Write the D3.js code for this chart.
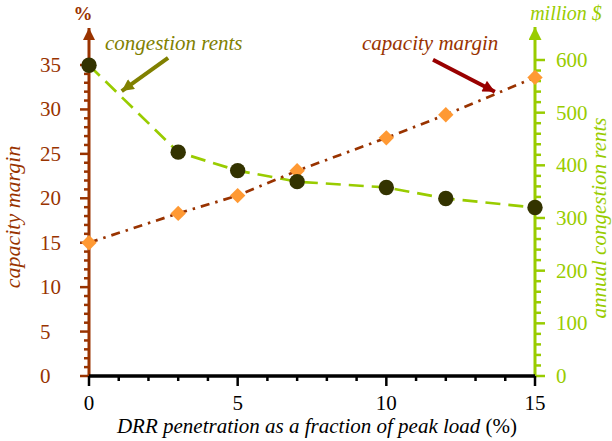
<!DOCTYPE html>
<html>
<head>
<meta charset="utf-8">
<script src="https://cdn.jsdelivr.net/npm/d3@7"></script>
<style>
  html, body { margin: 0; padding: 0; background: #fff; }
  svg text { font-family: "Liberation Serif", "DejaVu Serif", Times, serif; }
</style>
</head>
<body>
<svg id="chart" width="612" height="441"></svg>
<script>
// DRR penetration (% of peak load)
const penetration = [0, 3, 5, 7, 10, 12, 15];
// capacity margin, % (left axis)
const capacityMargin = [15, 18.3, 20.3, 23.1, 26.8, 29.4, 33.6];
// annual congestion rents, million $ (right axis)
const congestionRents = [590, 425, 390, 369, 358, 337, 320];

const xTicks = [0, 5, 10, 15];
const leftTicks = [0, 5, 10, 15, 20, 25, 30, 35];
const rightTicks = [0, 100, 200, 300, 400, 500, 600];

const C_LEFT = "#993300", C_RIGHT = "#99cc00", C_DOT = "#333300",
      C_DIAMOND = "#ff9933", C_OLIVE = "#808000", C_DARKRED = "#990000";
const SERIF = "'Liberation Serif', 'DejaVu Serif', Times, serif";

const svg = d3.select("#chart");
const x = d3.scaleLinear().domain([0, 15]).range([89, 535]);
const yL = d3.scaleLinear().domain([0, 35]).range([376, 65]);
const yR = d3.scaleLinear().domain([0, 600]).range([376, 60]);

// arrowhead markers
const defs = svg.append("defs");
function marker(id, color, w, h) {
  defs.append("marker").attr("id", id)
    .attr("viewBox", "0 0 10 10").attr("refX", 10).attr("refY", 5)
    .attr("markerUnits", "userSpaceOnUse")
    .attr("markerWidth", w).attr("markerHeight", h).attr("orient", "auto")
    .append("path").attr("d", "M0,0 L10,5 L0,10 Z").attr("fill", color);
}
marker("headL", C_LEFT, 13, 12);
marker("headR", C_RIGHT, 13, 13);
marker("headOlive", C_OLIVE, 14, 12);
marker("headRed", C_DARKRED, 14, 12);

function label(sel) { return sel.attr("font-family", SERIF); }

// ---- left axis (capacity margin) ----
const gL = svg.append("g").attr("transform", `translate(${x(0)},0)`);
gL.append("line").attr("x1", 0).attr("x2", 0).attr("y1", yL(0)).attr("y2", 28)
  .attr("stroke", C_LEFT).attr("stroke-width", 3).attr("marker-end", "url(#headL)");
gL.selectAll("line.minor").data(d3.range(0, 36, 1)).join("line").attr("class", "minor")
  .attr("x1", d => leftTicks.includes(d) ? -9 : -5).attr("x2", 0)
  .attr("y1", d => yL(d)).attr("y2", d => yL(d))
  .attr("stroke", C_LEFT).attr("stroke-width", 2.5);
svg.append("g").selectAll("text").data(leftTicks).join("text").call(label)
  .attr("x", 40).attr("y", d => yL(d) + 7)
  .attr("font-size", 21).attr("fill", C_LEFT).text(d => d);
svg.append("text").call(label).attr("x", 83).attr("y", 20).attr("text-anchor", "middle")
  .attr("font-size", 19).attr("font-weight", "bold").attr("fill", C_LEFT).text("%");
svg.append("text").call(label).attr("transform", `translate(20,${yL(17.9)}) rotate(-90)`)
  .attr("text-anchor", "middle").attr("font-size", 22).attr("font-style", "italic")
  .attr("fill", C_LEFT).text("capacity margin");

// ---- right axis (congestion rents) ----
const gR = svg.append("g").attr("transform", `translate(${x(15)},0)`);
gR.append("line").attr("x1", 0).attr("x2", 0).attr("y1", yR(0) + 1.5).attr("y2", 27)
  .attr("stroke", C_RIGHT).attr("stroke-width", 3).attr("marker-end", "url(#headR)");
gR.selectAll("line.minor").data(d3.range(0, 601, 20)).join("line").attr("class", "minor")
  .attr("x1", 0).attr("x2", d => rightTicks.includes(d) ? 10 : 6)
  .attr("y1", d => yR(d)).attr("y2", d => yR(d))
  .attr("stroke", C_RIGHT).attr("stroke-width", 2.5);
svg.append("g").selectAll("text").data(rightTicks).join("text").call(label)
  .attr("x", 556).attr("y", d => yR(d) + 7)
  .attr("font-size", 21).attr("fill", C_RIGHT).text(d => d);
svg.append("text").call(label).attr("x", 566).attr("y", 20).attr("text-anchor", "middle")
  .attr("font-size", 20).attr("font-style", "italic").attr("fill", C_RIGHT).text("million $");
svg.append("text").call(label).attr("transform", `translate(606,${yR(300)}) rotate(-90)`)
  .attr("text-anchor", "middle").attr("font-size", 21).attr("font-style", "italic")
  .attr("fill", C_RIGHT).text("annual congestion rents");

// ---- x axis ----
const gX = svg.append("g").attr("transform", `translate(0,${yL(0)})`);
gX.selectAll("line.tick").data(d3.range(0, 16, 1)).join("line").attr("class", "tick")
  .attr("x1", d => x(d)).attr("x2", d => x(d))
  .attr("y1", 0).attr("y2", d => xTicks.includes(d) ? 10 : 5)
  .attr("stroke", "#000").attr("stroke-width", 2.5);
gX.append("line").attr("x1", x(0)).attr("x2", x(15)).attr("y1", 0).attr("y2", 0)
  .attr("stroke", "#000").attr("stroke-width", 3.5);
gX.selectAll("text").data(xTicks).join("text").call(label)
  .attr("x", d => x(d)).attr("y", 34).attr("text-anchor", "middle")
  .attr("font-size", 21).attr("fill", "#000").text(d => d);
svg.append("text").call(label).attr("x", 317).attr("y", 433).attr("text-anchor", "middle")
  .attr("font-size", 21).attr("fill", "#000")
  .call(t => {
    t.append("tspan").attr("font-style", "italic").text("DRR penetration as a fraction of peak load ");
    t.append("tspan").text("(%)");
  });

// ---- congestion rents series ----
svg.append("path").datum(penetration.map((p, i) => [p, congestionRents[i]]))
  .attr("d", d3.line().x(d => x(d[0])).y(d => yR(d[1])))
  .attr("fill", "none").attr("stroke", C_RIGHT).attr("stroke-width", 2.7)
  .attr("stroke-dasharray", "15,8");

// ---- capacity margin series ----
svg.append("path").datum(penetration.map((p, i) => [p, capacityMargin[i]]))
  .attr("d", d3.line().x(d => x(d[0])).y(d => yL(d[1])))
  .attr("fill", "none").attr("stroke", C_LEFT).attr("stroke-width", 2.7)
  .attr("stroke-dasharray", "9,6,2.5,6");

svg.append("g").selectAll("path").data(penetration.map((p, i) => [p, capacityMargin[i]]))
  .join("path")
  .attr("d", d3.symbol(d3.symbolSquare, 118))
  .attr("transform", d => `translate(${x(d[0])},${yL(d[1])}) rotate(45)`)
  .attr("fill", C_DIAMOND);

svg.append("g").selectAll("circle").data(penetration.map((p, i) => [p, congestionRents[i]]))
  .join("circle")
  .attr("cx", d => x(d[0])).attr("cy", d => yR(d[1])).attr("r", 7.7)
  .attr("fill", C_DOT);

// ---- annotations (positions in data units) ----
const congNote = { from: [2.66, 604], to: [1.1, 541] };
const capNote = { from: [11.57, 35.6], to: [13.65, 32.0] };

svg.append("text").call(label).attr("x", 105).attr("y", 50)
  .attr("font-size", 21).attr("font-style", "italic").attr("fill", C_OLIVE)
  .text("congestion rents");
svg.append("line")
  .attr("x1", x(congNote.from[0])).attr("y1", yR(congNote.from[1]))
  .attr("x2", x(congNote.to[0])).attr("y2", yR(congNote.to[1]))
  .attr("stroke", C_OLIVE).attr("stroke-width", 4).attr("marker-end", "url(#headOlive)");

svg.append("text").call(label).attr("x", 362).attr("y", 50)
  .attr("font-size", 21).attr("font-style", "italic").attr("fill", C_LEFT)
  .text("capacity margin");
svg.append("line")
  .attr("x1", x(capNote.from[0])).attr("y1", yL(capNote.from[1]))
  .attr("x2", x(capNote.to[0])).attr("y2", yL(capNote.to[1]))
  .attr("stroke", C_DARKRED).attr("stroke-width", 4).attr("marker-end", "url(#headRed)");
</script>
</body>
</html>
